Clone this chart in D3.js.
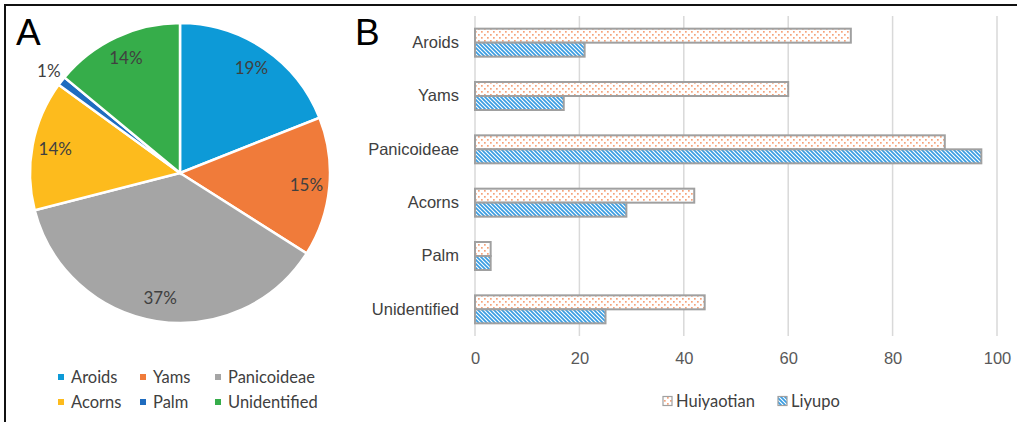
<!DOCTYPE html>
<html>
<head>
<meta charset="utf-8">
<script src="https://cdn.jsdelivr.net/npm/d3@7"></script>
<style>
  html, body { margin: 0; padding: 0; background: #fff; }
  svg { display: block; font-family: Lato, "Open Sans", sans-serif; }
</style>
</head>
<body>
<svg id="chart" width="1017" height="422"></svg>
<script>
// pie (panel A)
const pieCats = ["Aroids", "Yams", "Panicoideae", "Acorns", "Palm", "Unidentified"];
const pieVals = [19, 15, 37, 14, 1, 14];
const pieColors = ["#0d9ad7", "#f07b3a", "#a5a5a5", "#fdbb1d", "#1f6cbf", "#36ad4a"];

// bars (panel B)
const barCats = ["Aroids", "Yams", "Panicoideae", "Acorns", "Palm", "Unidentified"];
const huiyaotian = [72, 60, 90, 42, 3, 44];
const liyupo = [21, 17, 97, 29, 3, 25];
const seriesNames = ["Huiyaotian", "Liyupo"];
const xTicks = [0, 20, 40, 60, 80, 100];

const svg = d3.select("#chart");
const defs = svg.append("defs");

// dotted pattern for Huiyaotian
const dots = defs.append("pattern").attr("id", "dots")
  .attr("patternUnits", "userSpaceOnUse").attr("width", 6).attr("height", 6);
dots.append("rect").attr("width", 6).attr("height", 6).attr("fill", "#fff");
dots.append("rect").attr("x", 1).attr("y", 1).attr("width", 1.7).attr("height", 1.7).attr("fill", "#f6a37a");
dots.append("rect").attr("x", 4).attr("y", 4).attr("width", 1.7).attr("height", 1.7).attr("fill", "#f6a37a");

// diagonal stripes for Liyupo
const stripes = defs.append("pattern").attr("id", "stripes")
  .attr("patternUnits", "userSpaceOnUse").attr("width", 4).attr("height", 4);
stripes.append("rect").attr("width", 4).attr("height", 4).attr("fill", "#fff");
stripes.append("path").attr("d", "M-1,-1L5,5M-1,3L1,5M3,-1L5,1")
  .attr("stroke", "#3a9de2").attr("stroke-width", 1.7);

const fills = ["url(#dots)", "url(#stripes)"];

// frame
svg.append("path").attr("d", "M5,422V5H1017").attr("fill", "none")
  .attr("stroke", "#111").attr("stroke-width", 2);

// panel letters
svg.append("text").attr("x", 16).attr("y", 45).text("A")
  .style("font-family", "Liberation Sans, Arial, sans-serif").style("font-size", "37px").attr("fill", "#000");
svg.append("text").attr("x", 355).attr("y", 45).text("B")
  .style("font-family", "Liberation Sans, Arial, sans-serif").style("font-size", "37px").attr("fill", "#000");

// ---------- pie ----------
const cx = 180, cy = 173, R = 150;
const pie = d3.pie().sort(null).value(d => d)(pieVals);
const arc = d3.arc().innerRadius(0).outerRadius(R);
const labelArc = d3.arc().innerRadius(127).outerRadius(127);
const outArc = d3.arc().innerRadius(166).outerRadius(166);

const gPie = svg.append("g").attr("transform", `translate(${cx},${cy})`);
gPie.selectAll("path").data(pie).join("path")
  .attr("d", arc)
  .attr("fill", (d, i) => pieColors[i])
  .attr("stroke", "#fff").attr("stroke-width", 2.5);

gPie.selectAll("text").data(pie).join("text")
  .attr("transform", d => `translate(${(d.data < 5 ? outArc : labelArc).centroid(d)})`)
  .attr("text-anchor", "middle").attr("dy", "0.35em")
  .attr("fill", "#404040").style("font-size", "17px")
  .text(d => d.data + "%");

// pie legend
const pieLegX = [58, 140, 215];
const gLeg = svg.append("g");
pieCats.forEach((c, i) => {
  const x = pieLegX[i % 3], y = i < 3 ? 377 : 402;
  gLeg.append("rect").attr("x", x).attr("y", y - 3).attr("width", 6).attr("height", 6).attr("fill", pieColors[i]);
  gLeg.append("text").attr("x", x + 13).attr("y", y).attr("dy", "0.35em")
    .attr("fill", "#404040").style("font-size", "16.5px").text(c);
});

// ---------- bars ----------
const x = d3.scaleLinear().domain([0, 100]).range([475, 997]);
const y = d3.scaleBand().domain(barCats).range([16, 336]).paddingInner(0.475).paddingOuter(0.2375);
const ySub = d3.scaleBand().domain(seriesNames).range([0, y.bandwidth()]);

const gGrid = svg.append("g");
gGrid.selectAll("line").data(xTicks).join("line")
  .attr("x1", d => x(d)).attr("x2", d => x(d))
  .attr("y1", 16).attr("y2", 336)
  .attr("stroke", "#d9d9d9").attr("stroke-width", 1.5);

const xAxis = svg.append("g").attr("transform", "translate(0,336)")
  .call(d3.axisBottom(x).tickValues(xTicks).tickSize(0).tickPadding(16));
xAxis.select(".domain").remove();
xAxis.selectAll("text").attr("fill", "#595959").style("font-size", "16.5px").style("font-family", null);

const yAxis = svg.append("g").attr("transform", "translate(475,0)")
  .call(d3.axisLeft(y).tickSize(0).tickPadding(16));
yAxis.select(".domain").remove();
yAxis.selectAll("text").attr("fill", "#404040").style("font-size", "16.5px").style("font-family", null);

const rows = barCats.map((c, i) => ({ cat: c, vals: [huiyaotian[i], liyupo[i]] }));
const gBars = svg.append("g");
rows.forEach(r => {
  r.vals.forEach((v, j) => {
    gBars.append("rect")
      .attr("x", x(0)).attr("y", y(r.cat) + ySub(seriesNames[j]))
      .attr("width", x(v) - x(0)).attr("height", ySub.bandwidth())
      .attr("fill", fills[j])
      .attr("stroke", "#a0a0a0").attr("stroke-width", 2);
  });
});

// bar legend
const barLegX = [663, 778];
seriesNames.forEach((s, i) => {
  svg.append("rect").attr("x", barLegX[i]).attr("y", 396.5).attr("width", 9).attr("height", 9)
    .attr("fill", fills[i]).attr("stroke", "#a0a0a0").attr("stroke-width", 1.2);
  svg.append("text").attr("x", barLegX[i] + 13).attr("y", 401).attr("dy", "0.35em")
    .attr("fill", "#404040").style("font-size", "16.5px").text(s);
});
</script>
</body>
</html>
